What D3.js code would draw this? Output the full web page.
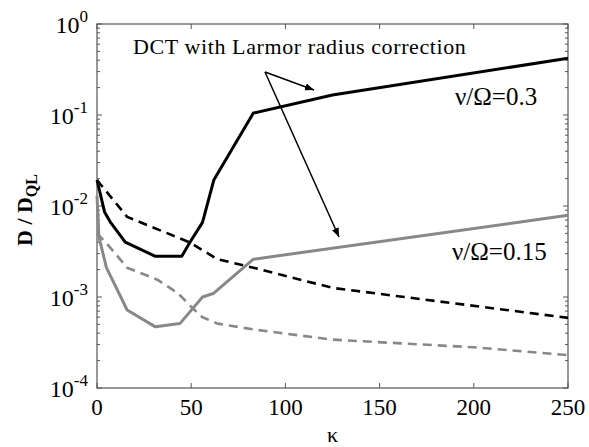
<!DOCTYPE html>
<html>
<head>
<meta charset="utf-8">
<script src="https://cdn.jsdelivr.net/npm/d3@7"></script>
<style>
  body { margin: 0; background: #fff; }
</style>
</head>
<body>
<svg width="589" height="447"></svg>
<script>
// kappa vs D/D_QL
const blackSolidK = [0, 4, 7, 15, 31, 45, 49, 56, 62, 83, 125, 250];
const blackSolidD = [0.0193, 0.0086, 0.0067, 0.0040, 0.0028, 0.0028, 0.0039, 0.0066, 0.0193, 0.105, 0.166, 0.42];

const blackDashK = [0, 16, 49, 64, 83, 125, 250];
const blackDashD = [0.0193, 0.0076, 0.0040, 0.0026, 0.0021, 0.00126, 0.00059];

const graySolidK = [0, 1, 5, 16, 31, 44, 56, 62, 83, 250];
const graySolidD = [0.013, 0.0046, 0.0021, 0.00072, 0.00047, 0.00051, 0.0010, 0.0011, 0.0026, 0.0079];

const grayDashK = [0, 6, 16, 32, 43, 50, 56, 64, 83, 125, 200, 250];
const grayDashD = [0.005, 0.0037, 0.0021, 0.00155, 0.0011, 0.00078, 0.0006, 0.00051, 0.00044, 0.00034, 0.00028, 0.00023];

const xTicks = [0, 50, 100, 150, 200, 250];
const yTicks = [-4, -3, -2, -1, 0]; // exponents

const margin = {top: 24, right: 21, bottom: 59, left: 97};
const width = 589, height = 447;
const axisColor = "#555";
const serif = "Liberation Serif, Times New Roman, DejaVu Serif, serif";

const svg = d3.select("svg");

const x = d3.scaleLinear()
    .domain([0, 250])
    .range([margin.left, width - margin.right]);

const y = d3.scaleLog()
    .domain([1e-4, 1])
    .range([height - margin.bottom, margin.top]);

const line = d3.line()
    .x(d => x(d[0]))
    .y(d => y(d[1]));

const zip = (a, b) => a.map((k, i) => [k, b[i]]);

// frame
svg.append("rect")
    .attr("x", x(0)).attr("y", y(1))
    .attr("width", x(250) - x(0)).attr("height", y(1e-4) - y(1))
    .attr("fill", "none").attr("stroke", axisColor).attr("stroke-width", 1.2);

// x ticks (inside, bottom and top)
const gx = svg.append("g");
xTicks.forEach(t => {
    gx.append("line").attr("x1", x(t)).attr("x2", x(t))
        .attr("y1", y(1e-4)).attr("y2", y(1e-4) - 5)
        .attr("stroke", axisColor);
    gx.append("line").attr("x1", x(t)).attr("x2", x(t))
        .attr("y1", y(1)).attr("y2", y(1) + 5)
        .attr("stroke", axisColor);
    gx.append("text").attr("x", x(t)).attr("y", 415)
        .attr("text-anchor", "middle")
        .attr("font-family", serif)
        .attr("font-size", 23)
        .text(t);
});

// y ticks: major + log minor, left and right
const gy = svg.append("g");
yTicks.forEach(e => {
    const v = Math.pow(10, e);
    [x(0), x(250)].forEach((xx, i) => {
        const dir = i === 0 ? 1 : -1;
        gy.append("line").attr("x1", xx).attr("x2", xx + dir * 5)
            .attr("y1", y(v)).attr("y2", y(v)).attr("stroke", axisColor);
        if (e < 0) {
            for (let m = 2; m <= 9; m++) {
                const mv = v * m;
                gy.append("line").attr("x1", xx).attr("x2", xx + dir * 3)
                    .attr("y1", y(mv)).attr("y2", y(mv)).attr("stroke", axisColor);
            }
        }
    });
    const lab = gy.append("text")
        .attr("x", 88).attr("y", y(v) + 9)
        .attr("text-anchor", "end")
        .attr("font-family", serif)
        .attr("font-size", 24);
    lab.append("tspan").text("10");
    lab.append("tspan").attr("font-size", 17).attr("dy", -11).text(e);
});

// series
const series = [
    {data: zip(grayDashK, grayDashD), color: "#888", dash: "9,6", w: 2.6},
    {data: zip(blackDashK, blackDashD), color: "#000", dash: "9,6", w: 2.6},
    {data: zip(graySolidK, graySolidD), color: "#888", dash: null, w: 3},
    {data: zip(blackSolidK, blackSolidD), color: "#000", dash: null, w: 3}
];

svg.append("g").selectAll("path")
    .data(series)
    .join("path")
    .attr("d", d => line(d.data))
    .attr("fill", "none")
    .attr("stroke", d => d.color)
    .attr("stroke-width", d => d.w)
    .attr("stroke-dasharray", d => d.dash)
    .attr("stroke-linejoin", "round");

// annotation
svg.append("defs").append("marker")
    .attr("id", "arr")
    .attr("viewBox", "0 0 10 10")
    .attr("refX", 10).attr("refY", 5)
    .attr("markerWidth", 9).attr("markerHeight", 9)
    .attr("markerUnits", "userSpaceOnUse")
    .attr("orient", "auto")
  .append("path")
    .attr("d", "M0,1 L10,5 L0,9 Z")
    .attr("fill", "#000");

svg.append("text")
    .attr("x", 133).attr("y", 54)
    .attr("font-family", serif)
    .attr("font-size", 22)
    .attr("letter-spacing", 0.6)
    .text("DCT with Larmor radius correction");

const orig = [265, 72];
svg.append("line")
    .attr("x1", orig[0]).attr("y1", orig[1])
    .attr("x2", 314).attr("y2", 90)
    .attr("stroke", "#000").attr("stroke-width", 1.5)
    .attr("marker-end", "url(#arr)");
svg.append("line")
    .attr("x1", orig[0]).attr("y1", orig[1])
    .attr("x2", 339).attr("y2", 237)
    .attr("stroke", "#000").attr("stroke-width", 1.5)
    .attr("marker-end", "url(#arr)");

svg.append("text")
    .attr("x", 455).attr("y", 105)
    .attr("font-family", serif)
    .attr("font-size", 25)
    .text("ν/Ω=0.3");
svg.append("text")
    .attr("x", 452).attr("y", 260)
    .attr("font-family", serif)
    .attr("font-size", 25)
    .text("ν/Ω=0.15");

// axis labels
svg.append("text")
    .attr("x", x(125)).attr("y", 442)
    .attr("text-anchor", "middle")
    .attr("font-family", serif)
    .attr("font-size", 22)
    .text("κ");

const yl = svg.append("text")
    .attr("transform", "translate(32,210) rotate(-90)")
    .attr("text-anchor", "middle")
    .attr("font-family", serif)
    .attr("font-size", 22)
    .attr("font-weight", "bold");
yl.append("tspan").text("D / D");
yl.append("tspan").attr("font-size", 16).attr("dy", 5).text("QL");
</script>
</body>
</html>
